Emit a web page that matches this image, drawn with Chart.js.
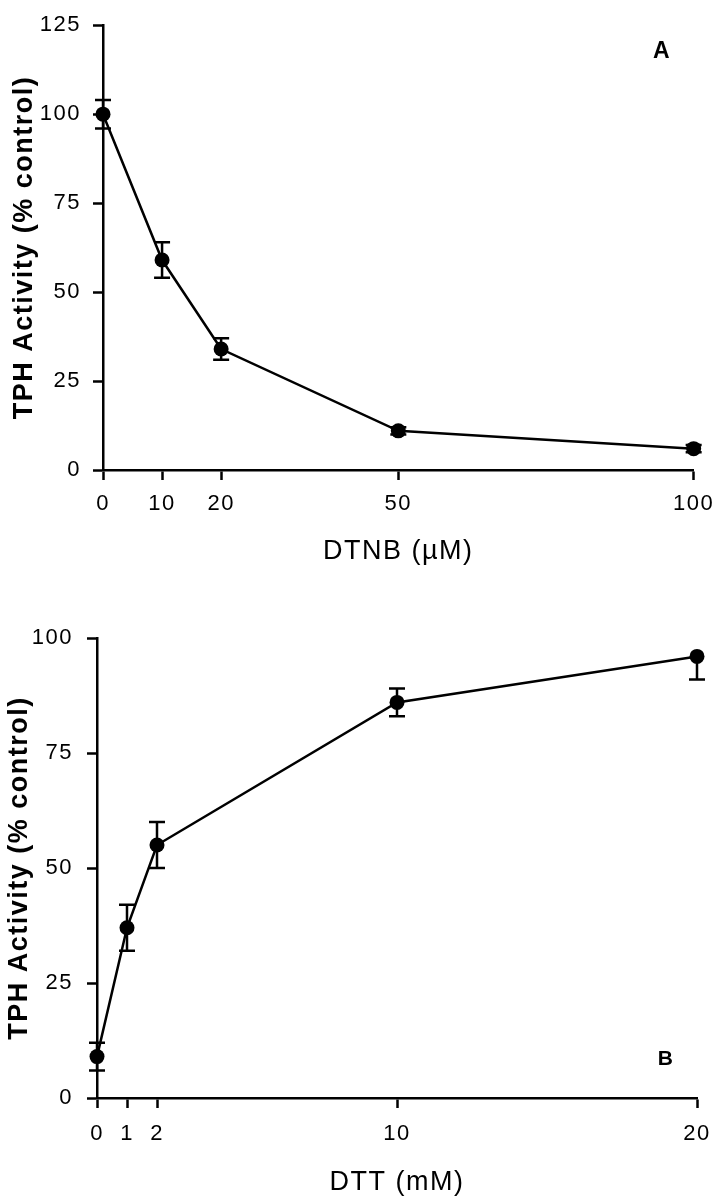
<!DOCTYPE html>
<html>
<head>
<meta charset="utf-8">
<script src="https://cdn.jsdelivr.net/npm/chart.js@4.4.1/dist/chart.umd.min.js"></script>
<style>
  html, body { margin: 0; padding: 0; background: #fff; }
  body { width: 723px; height: 1199px; position: relative; overflow: hidden; }
  .panel { position: absolute; left: 0; width: 723px; }
  #panelA { top: 0; height: 600px; }
  #panelB { top: 600px; height: 599px; }
</style>
</head>
<body>
<div class="panel" id="panelA"><canvas id="chartA"></canvas></div>
<div class="panel" id="panelB"><canvas id="chartB"></canvas></div>
<script>
// Panel A: DTNB
const dtnbConc = [0, 10, 20, 50, 100];
const dtnbActivity = [100, 59, 34, 11, 6];
const dtnbErrUp = [4, 5, 3, 1, 1];
const dtnbErrDown = [4, 5, 3, 1, 1];
const dtnbTicks = [0, 10, 20, 50, 100];

// Panel B: DTT
const dttConc = [0, 1, 2, 10, 20];
const dttActivity = [9, 37, 55, 86, 96];
const dttErrUp = [3, 5, 5, 3, 0];
const dttErrDown = [3, 5, 5, 3, 5];
const dttTicks = [0, 1, 2, 10, 20];

const FONT = "'Liberation Sans', Arial, Helvetica, sans-serif";

// the scanned figure uses loosely tracked type
const tracking = {
  id: "tracking",
  beforeDraw(chart) {
    chart.ctx.letterSpacing = "1.5px";
  },
};

// draws vertical error bars with caps from the errUp/errDown arrays
const errorBars = {
  id: "errorBars",
  afterDatasetsDraw(chart, args, opts) {
    const ctx = chart.ctx;
    const xs = chart.scales.x;
    const ys = chart.scales.y;
    const ds = chart.data.datasets[0];
    ctx.save();
    ctx.strokeStyle = "#000";
    ctx.lineWidth = 2.5;
    ds.data.forEach((p, i) => {
      const x = xs.getPixelForValue(p.x);
      const up = opts.up[i];
      const down = opts.down[i];
      const yTop = ys.getPixelForValue(p.y + up);
      const yBot = ys.getPixelForValue(p.y - down);
      ctx.beginPath();
      ctx.moveTo(x, yTop);
      ctx.lineTo(x, yBot);
      if (up > 0) {
        ctx.moveTo(x - 8, yTop);
        ctx.lineTo(x + 8, yTop);
      }
      if (down > 0) {
        ctx.moveTo(x - 8, yBot);
        ctx.lineTo(x + 8, yBot);
      }
      ctx.stroke();
    });
    ctx.restore();
  },
};

// panel letter
const panelLabel = {
  id: "panelLabel",
  afterDraw(chart, args, opts) {
    const ctx = chart.ctx;
    ctx.save();
    ctx.fillStyle = "#000";
    ctx.font = "bold " + opts.size + "px " + FONT;
    ctx.textAlign = "center";
    ctx.textBaseline = "middle";
    ctx.fillText(opts.text, opts.x, opts.y);
    ctx.restore();
  },
};

function makeChart(id, cfg) {
  const points = cfg.xs.map((x, i) => ({ x: x, y: cfg.ys[i] }));
  return new Chart(document.getElementById(id), {
    type: "line",
    data: {
      datasets: [
        {
          data: points,
          borderColor: "#000",
          borderWidth: 2.5,
          backgroundColor: "#000",
          pointRadius: 7.5,
          pointHoverRadius: 7.5,
          pointBackgroundColor: "#000",
          pointBorderWidth: 0,
          tension: 0,
          clip: false,
        },
      ],
    },
    options: {
      responsive: true,
      maintainAspectRatio: false,
      animation: false,
      events: [],
      layout: { padding: cfg.padding },
      plugins: {
        legend: { display: false },
        tooltip: { enabled: false },
        errorBars: { up: cfg.up, down: cfg.down },
        panelLabel: cfg.label,
      },
      scales: {
        x: {
          type: "linear",
          min: cfg.xMin,
          max: cfg.xMax,
          afterBuildTicks: (scale) => {
            scale.ticks = cfg.xTicks.map((v) => ({ value: v }));
          },
          afterFit: (scale) => {
            scale.height = cfg.xHeight;
          },
          grid: {
            drawOnChartArea: false,
            drawTicks: true,
            tickLength: 10,
            tickWidth: 2.5,
            tickColor: "#000",
          },
          border: { display: true, color: "#000", width: 2.5 },
          ticks: {
            color: "#000",
            padding: cfg.xTickPad,
            maxRotation: 0,
            autoSkip: false,
            font: { family: FONT, size: 22 },
          },
          title: {
            display: true,
            text: cfg.xTitle,
            color: "#000",
            padding: { top: 0, bottom: cfg.xTitlePad },
            font: { family: FONT, size: 27 },
          },
        },
        y: {
          min: 0,
          max: cfg.yMax,
          afterFit: (scale) => {
            scale.width = cfg.yWidth;
          },
          grid: {
            drawOnChartArea: false,
            drawTicks: true,
            tickLength: 10,
            tickWidth: 2.5,
            tickColor: "#000",
          },
          border: { display: true, color: "#000", width: 2.5 },
          ticks: {
            stepSize: 25,
            color: "#000",
            padding: cfg.yTickPad,
            font: { family: FONT, size: 22 },
          },
          title: {
            display: true,
            text: "TPH Activity (% control)",
            color: "#000",
            padding: { top: cfg.yTitlePad, bottom: 0 },
            font: { family: FONT, size: 27, weight: "bold" },
          },
        },
      },
    },
    plugins: [tracking, errorBars, panelLabel],
  });
}

makeChart("chartA", {
  xs: dtnbConc,
  ys: dtnbActivity,
  up: dtnbErrUp,
  down: dtnbErrDown,
  xTicks: dtnbTicks,
  xMin: 0,
  xMax: 100,
  yMax: 125,
  xTitle: "DTNB (\u00b5M)",
  padding: { top: 13, right: 26, left: 0, bottom: 0 },
  xHeight: 130,
  yWidth: 103,
  xTickPad: 11,
  yTickPad: 12,
  xTitlePad: 32,
  yTitlePad: 8,
  label: { text: "A", x: 662, y: 52, size: 23 },
});

makeChart("chartB", {
  xs: dttConc,
  ys: dttActivity,
  up: dttErrUp,
  down: dttErrDown,
  xTicks: dttTicks,
  xMin: 0,
  xMax: 20,
  yMax: 100,
  xTitle: "DTT (mM)",
  padding: { top: 38, right: 26, left: 0, bottom: 0 },
  xHeight: 101,
  yWidth: 97,
  xTickPad: 13,
  yTickPad: 14,
  xTitlePad: 0,
  yTitlePad: 3,
  label: { text: "B", x: 666, y: 459, size: 21 },
});
</script>
</body>
</html>
